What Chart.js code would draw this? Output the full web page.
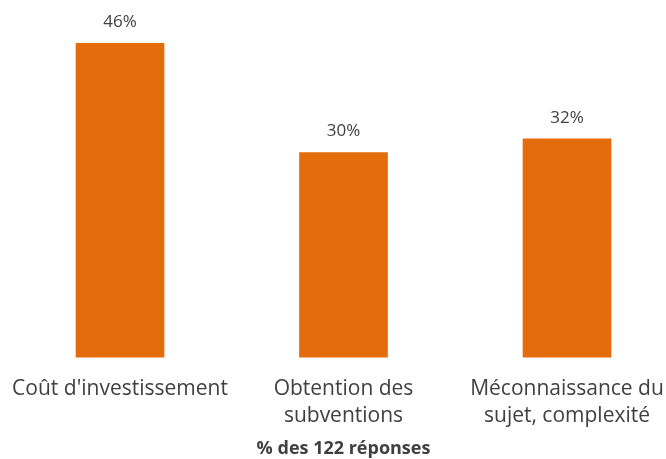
<!DOCTYPE html>
<html lang="fr">
<head>
<meta charset="UTF-8">
<title>Freins</title>
<script src="https://cdn.jsdelivr.net/npm/chart.js"></script>
<style>
    body { margin: 0; padding: 0; background: #fff; }
    .wrap { position: relative; width: 666px; height: 459px; }
</style>
</head>
<body>
<div class="wrap"><canvas id="graph"></canvas></div>
<script>
    const categories = [
        ["Coût d'investissement"],
        ["Obtention des", "subventions"],
        ["Méconnaissance du", "sujet, complexité"]
    ];
    const values = [46, 30, 32];
    const axisTitle = '% des 122 réponses';

    const fontFamily = '"Open Sans", sans-serif';

    // labels au-dessus des barres
    const barLabels = {
        id: 'barLabels',
        afterDatasetsDraw(chart) {
            const ctx = chart.ctx;
            const meta = chart.getDatasetMeta(0);
            ctx.save();
            ctx.font = '17px ' + fontFamily;
            ctx.fillStyle = '#404040';
            ctx.textAlign = 'center';
            ctx.textBaseline = 'middle';
            meta.data.forEach((bar, i) => {
                ctx.fillText(values[i] + '%', bar.x, bar.y - 21);
            });
            ctx.restore();
        }
    };

    new Chart(document.getElementById('graph'), {
        type: 'bar',
        data: {
            labels: categories,
            datasets: [{
                data: values,
                backgroundColor: '#E46C0A',
                borderWidth: 0,
                barThickness: 88,
                clip: false
            }]
        },
        options: {
            animation: false,
            responsive: true,
            maintainAspectRatio: false,
            layout: { padding: { top: 16, left: 120, right: 99, bottom: 0 } },
            plugins: { legend: { display: false }, tooltip: { enabled: false } },
            scales: {
                x: {
                    offset: false,
                    grid: { display: false },
                    border: { display: false },
                    afterFit(scale) {
                        // pas de marge auto pour les libellés
                        scale.paddingLeft = 0;
                        scale.paddingRight = 0;
                    },
                    ticks: {
                        color: '#404040',
                        font: { family: fontFamily, size: 21, lineHeight: 1.3 },
                        maxRotation: 0,
                        minRotation: 0,
                        autoSkip: false,
                        padding: 10
                    },
                    title: {
                        display: true,
                        text: axisTitle,
                        color: '#404040',
                        font: { family: fontFamily, size: 18, weight: 'bold', lineHeight: 1.07 },
                        padding: { top: 0, bottom: 0 }
                    }
                },
                y: { display: false, min: 0, max: 50 }
            }
        },
        plugins: [barLabels]
    });
</script>
</body>
</html>
